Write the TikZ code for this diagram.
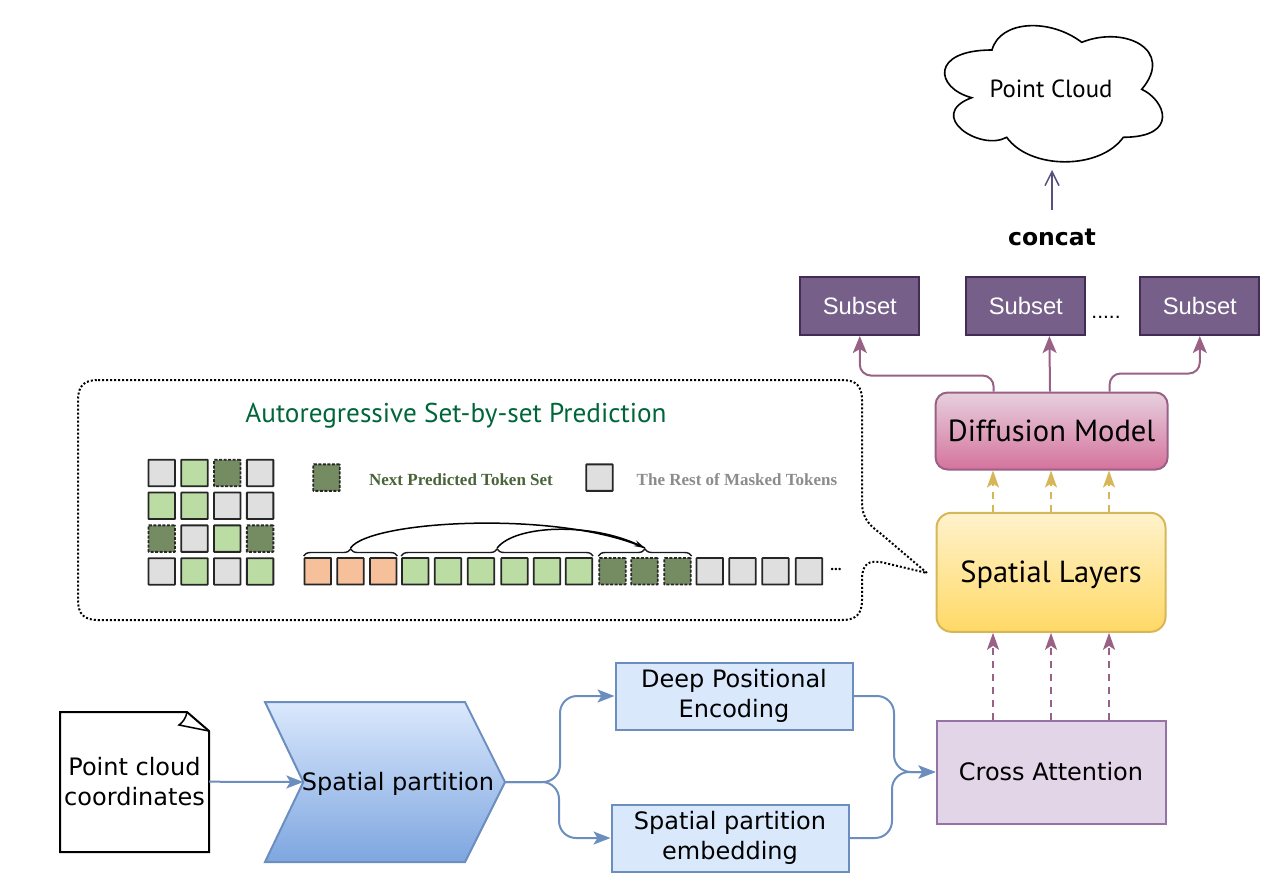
\documentclass[tikz,border=0pt]{standalone}
\usepackage{fontspec}
\setmainfont{DejaVu Sans}
\newfontfamily\handfont{PT Sans}
\newfontfamily\subsetfont{Liberation Sans}
\newfontfamily\legendfont{Liberation Serif}
\usetikzlibrary{arrows.meta, calc, decorations.pathreplacing}
\definecolor{bluefill}{HTML}{DAE8FC}
\definecolor{blueline}{HTML}{6C8EBF}
\definecolor{bluedeep}{HTML}{7EA6E0}
\definecolor{plumline}{HTML}{996185}
\definecolor{plumfill}{HTML}{E6D0DE}
\definecolor{plumdeep}{HTML}{D5739D}
\definecolor{goldline}{HTML}{D6B656}
\definecolor{goldfill}{HTML}{FFF2CC}
\definecolor{golddeep}{HTML}{FFD966}
\definecolor{lilacfill}{HTML}{E1D5E7}
\definecolor{lilacline}{HTML}{9673A6}
\definecolor{subsetfill}{HTML}{76608A}
\definecolor{subsetline}{HTML}{432D57}
\definecolor{inkline}{HTML}{56517E}
\definecolor{titlegreen}{HTML}{00663A}
\definecolor{nextgreen}{HTML}{4A6338}
\definecolor{tokengray}{HTML}{DFDFDF}
\definecolor{tokengreen}{HTML}{BBDCA3}
\definecolor{tokendark}{HTML}{758C62}
\definecolor{tokenorange}{HTML}{F5C09A}
\tikzset{
    bodytext/.style={font=\fontsize{24}{30}\selectfont, align=center},
    handtext/.style={font=\handfont\fontsize{30.5}{34}\selectfont, text=black, text height=25pt, text depth=4pt},
    bluebox/.style={draw=blueline, fill=bluefill, line width=2pt, bodytext, inner sep=0pt},
    subsetbox/.style={draw=subsetline, fill=subsetfill, line width=2pt, minimum width=119pt, minimum height=58.5pt, inner sep=0pt, text=white, font=\subsetfont\fontsize{23.8}{28}\selectfont},
    blueflow/.style={draw=blueline, line width=2pt, rounded corners=17pt, -{Stealth[length=17pt,width=13pt,inset=4pt]}},
    plumflow/.style={draw=plumline, line width=2pt, rounded corners=11pt, -{Stealth[length=17pt,width=14pt,inset=4pt]}},
    plumdash/.style={draw=plumline, line width=2pt, dash pattern=on 7pt off 6pt, -{Stealth[length=17pt,width=12pt,inset=4pt]}},
    golddash/.style={draw=goldline, line width=2pt, dash pattern=on 7pt off 6pt, -{Stealth[length=17pt,width=12pt,inset=4pt]}},
    tokenbase/.style={minimum size=26.5pt, inner sep=0pt, line width=1.8pt, draw=black!85, rounded corners=0.5pt},
    tokeng/.style={tokenbase, fill=tokengray},
    tokenl/.style={tokenbase, fill=tokengreen},
    tokend/.style={tokenbase, fill=tokendark, dash pattern=on 3pt off 1.5pt},
    tokeno/.style={tokenbase, fill=tokenorange},
    setbrace/.style={draw=black!90, line width=1.4pt, decorate, decoration={brace, amplitude=7pt, aspect=0.5}},
    legendtext/.style={font=\legendfont\bfseries\fontsize{17}{20}\selectfont},
}
\begin{document}
\begin{tikzpicture}[x=1pt, y=-1pt]
    \useasboundingbox (0,0) rectangle (1284,887);

    % cloud
    \draw[black, line width=1.6pt, fill=white] (992,50) .. controls (1000,20) and (1050,18) .. (1081.7,42.3)
        .. controls (1125,25) and (1175,50) .. (1141.7,89.3)
        .. controls (1165,100) and (1180,137) .. (1123.3,137.3)
        .. controls (1100,170) and (1030,170) .. (1006.7,137.3)
        .. controls (980,152) and (925,115) .. (971.7,97.7)
        .. controls (935,88) and (930,50) .. (992,50) -- cycle;
    \node[font=\handfont\fontsize{24.8}{28}\selectfont] (cloud) at (1051,89) {Point Cloud};
    \coordinate (cloudfoot) at (1052,170);
    \coordinate (concatfoot) at (1052,210);
    \node[font=\bfseries\fontsize{23.5}{28}\selectfont] (concat) at (1052,237) {concat};
    \draw[draw=inkline, line width=1.5pt, -{Straight Barb[length=14pt,width=14pt]}] (concatfoot) -- (cloudfoot);

    % subsets
    \node[subsetbox] (subsetA) at (859.8,305.8) {Subset};
    \node[subsetbox] (subsetB) at (1025.8,305.8) {Subset};
    \node[subsetbox] (subsetC) at (1199.8,305.8) {Subset};
    \node[font=\subsetfont\fontsize{21}{24}\selectfont] (moredots) at (1106,317.5) {.....};

    % model stack
    \node[draw=plumline, top color=plumfill, bottom color=plumdeep, line width=2pt, rounded corners=12pt, minimum width=232pt, minimum height=77pt, inner sep=0pt, handtext] (diffusion) at (1051.6,431) {Diffusion Model};
    \node[draw=goldline, top color=goldfill, bottom color=golddeep, line width=2pt, rounded corners=15pt, minimum width=229pt, minimum height=119pt, inner sep=0pt, handtext] (layers) at (1051,572.3) {Spatial Layers};
    \node[draw=lilacline, fill=lilacfill, line width=2pt, minimum width=229pt, minimum height=103pt, bodytext] (cross) at (1051,772) {Cross Attention};

    \draw[plumflow] ([xshift=-58pt]diffusion.north) -- ++(0,-16) -| (subsetA.south);
    \draw[plumflow] ([xshift=-1.6pt]diffusion.north) -- ([xshift=23.6pt]subsetB.south);
    \draw[plumflow] ([xshift=58pt]diffusion.north) -- ++(0,-18) -| (subsetC.south);
    \foreach \dx in {-58,0,58} {
        \draw[golddash] ([xshift=\dx pt]layers.north) -- ([xshift=\dx pt]layers.north |- diffusion.south);
        \draw[plumdash] ([xshift=\dx pt]cross.north) -- ([xshift=\dx pt]cross.north |- layers.south);
    }

    % callout
    \draw[black, line width=2pt, dash pattern=on 2pt off 2pt] (98,380) -- (842,380)
        .. controls (856,380) and (862,386) .. (862,400) -- (862,503)
        .. controls (862,518) and (870,526) .. (880,533) -- (927,573) -- (885,563)
        .. controls (868,559) and (862,564) .. (862,580) -- (862,600)
        .. controls (862,614) and (856,620) .. (842,620) -- (98,620)
        .. controls (84,620) and (78,614) .. (78,600) -- (78,400)
        .. controls (78,386) and (84,380) .. (98,380) -- cycle;
    \node[font=\handfont\fontsize{27.2}{30}\selectfont, text=titlegreen] (title) at (456,416) {Autoregressive Set-by-set Prediction};

    % token grid, row by row
    \foreach \kind [count=\i from 0] in {g,l,d,g, l,l,g,g, d,g,l,d, g,l,g,l} {
        \pgfmathsetmacro{\cx}{161.7+32.8*mod(\i,4)}
        \pgfmathsetmacro{\cy}{473+32.8*int(\i/4)}
        \node[token\kind] (grid\i) at (\cx,\cy) {};
    }
    \node[tokend] (legendnext) at (326.5,477.6) {};
    \node[tokeng] (legendrest) at (599.5,477.6) {};
    \node[legendtext, text=nextgreen] (nextlabel) at (461,480) {Next Predicted Token Set};
    \node[legendtext, text=black!45] (restlabel) at (737,480) {The Rest of Masked Tokens};

    % token row
    \foreach \cx/\kind [count=\i] in {317.8/o,350.5/o,383.3/o,415.3/l,448/l,481/l,514.5/l,547/l,579/l,612.4/d,644.5/d,677.5/d,709.8/g,742.5/g,775.5/g,809/g} {
        \node[token\kind] (row\i) at (\cx,571.3) {};
    }
    \node[font=\legendfont\bfseries\fontsize{15}{18}\selectfont] (rowdots) at (836,569) {...};
    \draw[setbrace] (row1.west |- 0,556) -- (row3.east |- 0,556) coordinate[midway, yshift=8pt] (braceA);
    \draw[setbrace] (row4.west |- 0,556) -- (row9.east |- 0,556) coordinate[midway, yshift=8pt] (braceB);
    \draw[setbrace] (row10.west |- 0,556) -- (row12.east |- 0,556) coordinate[midway, yshift=8pt] (braceC);
    \draw[black, line width=1.5pt] (braceA) .. controls (370,520) and (560,510) .. (braceC);
    \draw[black, line width=1.5pt, -{Stealth[length=11pt,width=6pt]}] (braceB) .. controls (515,525) and (590,522) .. (braceC);

    % input side
    \draw[black, line width=2pt, fill=white] (60,712) -- (187,712) -- (209,731) -- (209,852) -- (60,852) -- cycle;
    \draw[black, line width=1.5pt] (187,712) .. controls (186,718) and (183,722) .. (179,725) -- (209,731);
    \node[bodytext, minimum width=149pt, minimum height=140pt, inner sep=0pt] (coords) at (134.5,781.7) {Point cloud\\coordinates};
    \draw[draw=blueline, line width=2pt, top color=bluefill, bottom color=bluedeep] (265,702) -- (465,702) -- (505,782) -- (465,862) -- (265,862) -- (303.3,782) -- cycle;
    \coordinate (partitionin) at (303.3,782);
    \coordinate (partitionout) at (505,782);
    \draw[blueflow] (coords.east) -- (partitionin);
    \node[bodytext] (partition) at (398,783.5) {Spatial partition};

    \node[bluebox, minimum width=237pt, minimum height=67pt] (deep) at (734,696) {Deep Positional\\Encoding};
    \node[bluebox, minimum width=237pt, minimum height=67pt] (embed) at (730,838) {Spatial partition\\embedding};
    \draw[blueflow] (partitionout) -- (560,782) |- (deep.west);
    \draw[blueflow] (partitionout) -- (559,782) |- (embed.west);
    \draw[blueflow] (deep.east) -| (894,772) -- (cross.west);
    \draw[blueflow] (embed.east) -| (892,772) -- (cross.west);
\end{tikzpicture}
\end{document}
